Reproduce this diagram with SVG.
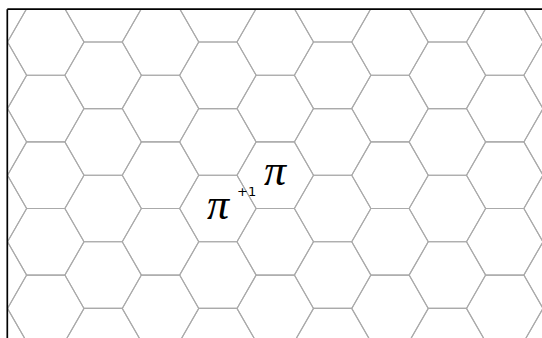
<svg xmlns="http://www.w3.org/2000/svg" width="542" height="338" viewBox="0 0 542 338">
  <style>
    .hex { fill: none; stroke: #aaaaaa; stroke-width: 1.1; }
    .spine { stroke: #000000; stroke-width: 1.7; fill: none; }
    .pi { font-family: "Liberation Serif", serif; font-style: italic; font-size: 44px; fill: #000000; text-anchor: middle; }
    .sup { font-family: "DejaVu Sans", sans-serif; font-size: 13px; fill: #000000; }
  </style>
  <defs>
    <polygon id="hex" class="hex" points="-38.25,0 -19.125,-33.3 19.125,-33.3 38.25,0 19.125,33.3 -19.125,33.3"/>
    <g id="rowA">
      <use href="#hex" x="45.75"/>
      <use href="#hex" x="160.5"/>
      <use href="#hex" x="275.25"/>
      <use href="#hex" x="390"/>
      <use href="#hex" x="504.75"/>
    </g>
    <g id="rowB">
      <use href="#hex" x="-11.625"/>
      <use href="#hex" x="103.125"/>
      <use href="#hex" x="217.875"/>
      <use href="#hex" x="332.625"/>
      <use href="#hex" x="447.375"/>
      <use href="#hex" x="562.125"/>
    </g>
    <clipPath id="axes">
      <rect x="7.3" y="9.2" width="540" height="335"/>
    </clipPath>
  </defs>
  <rect width="542" height="338" fill="#ffffff"/>
  <g id="grid" clip-path="url(#axes)">
    <use href="#rowA" y="-24.6"/>
    <use href="#rowA" y="42"/>
    <use href="#rowA" y="108.6"/>
    <use href="#rowA" y="175.2"/>
    <use href="#rowA" y="241.8"/>
    <use href="#rowA" y="308.4"/>
    <use href="#rowA" y="375"/>
    <use href="#rowB" y="8.7"/>
    <use href="#rowB" y="75.3"/>
    <use href="#rowB" y="141.9"/>
    <use href="#rowB" y="208.5"/>
    <use href="#rowB" y="275.1"/>
    <use href="#rowB" y="341.7"/>
  </g>
  <g id="spines">
    <line class="spine" x1="7.3" y1="9.2" x2="542" y2="9.2"/>
    <line class="spine" x1="7.3" y1="9.2" x2="7.3" y2="338"/>
  </g>
  <g id="labels">
    <text class="pi" x="218" y="218.5">π</text>
    <text class="sup" x="237" y="196">+1</text>
    <text class="pi" x="275" y="185">π</text>
  </g>
</svg>
